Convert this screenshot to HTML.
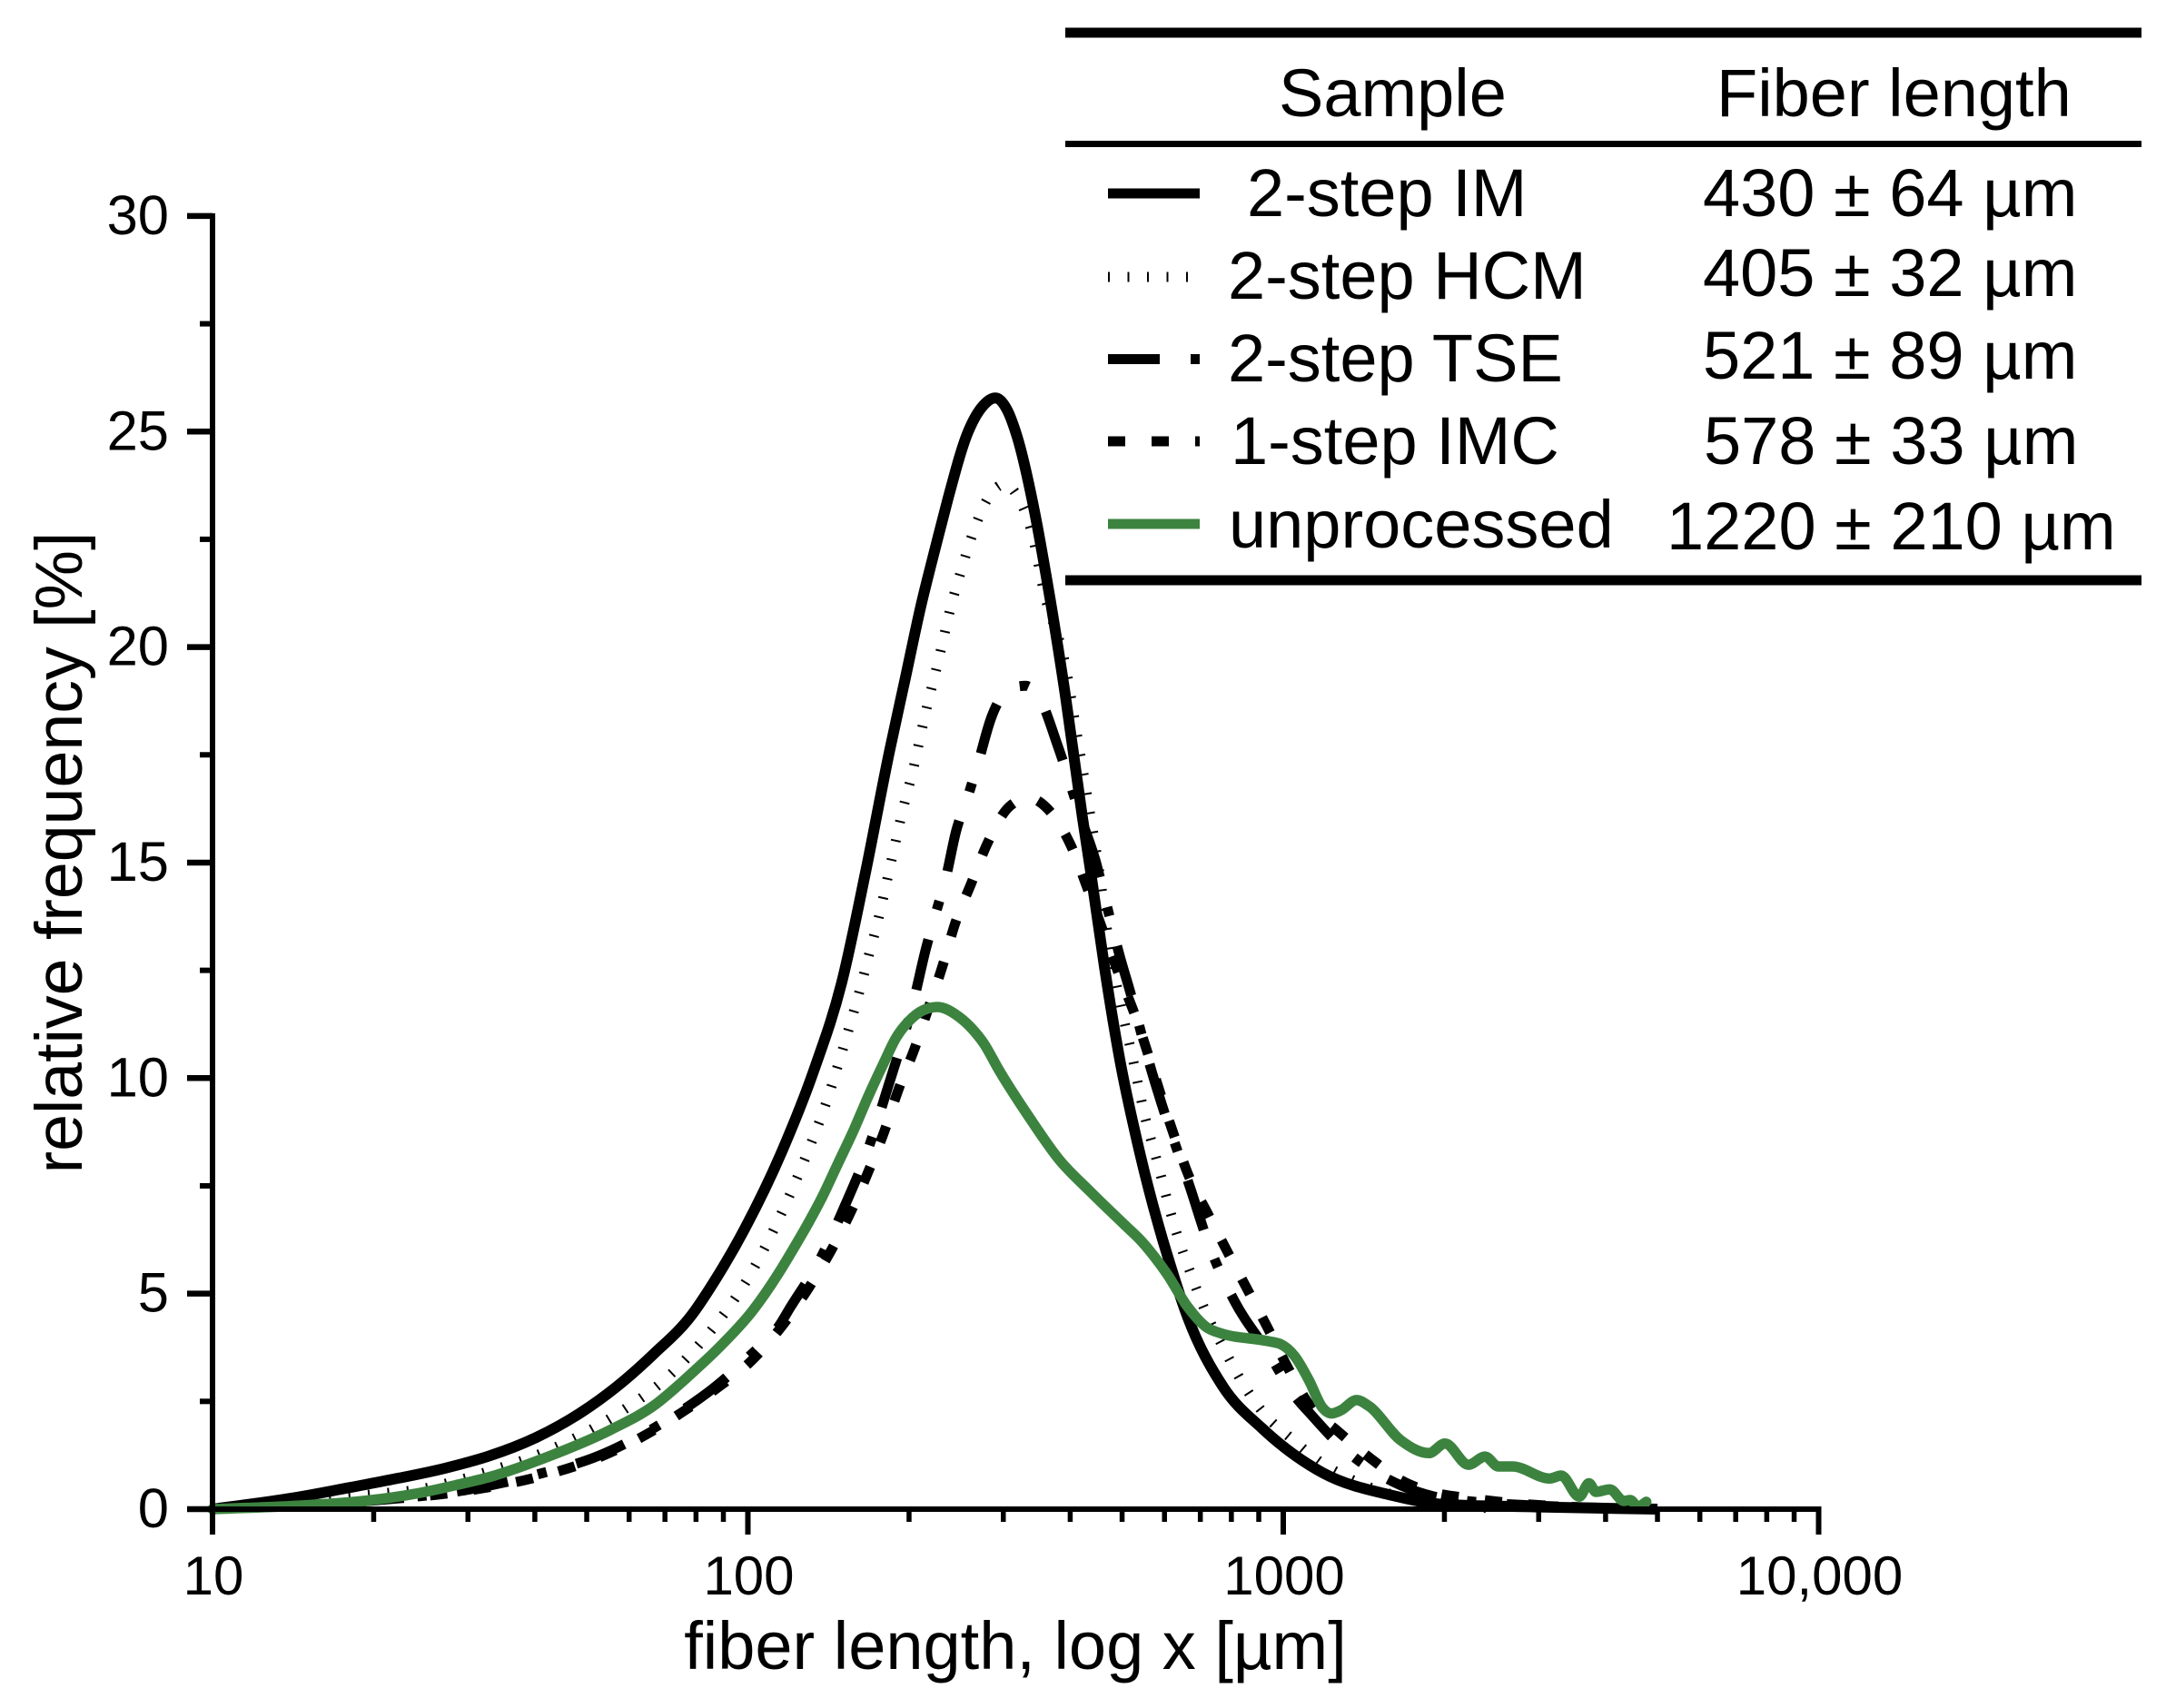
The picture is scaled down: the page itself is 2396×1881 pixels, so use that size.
<!DOCTYPE html>
<html>
<head>
<meta charset="utf-8">
<title>Fiber length distribution</title>
<style>
html,body{margin:0;padding:0;background:#fff;}
svg{display:block;}
text{font-family:"Liberation Sans",Arial,sans-serif;fill:#000;}
</style>
</head>
<body>
<svg id="chart" xmlns="http://www.w3.org/2000/svg" width="2396" height="1881" viewBox="0 0 2396 1881">
<rect x="0" y="0" width="2396" height="1881" fill="#fff"/>
<g id="series-layer"></g>
<g id="axis-layer"></g>
<text x="1118" y="1838" font-size="74" text-anchor="middle">fiber length, log x [µm]</text>
<text x="0" y="0" font-size="73.5" text-anchor="middle" transform="translate(90,939) rotate(-90)">relative frequency [%]</text>
<g>
<rect x="1173" y="30.5" width="1185" height="11" fill="#000"/>
<rect x="1173" y="155" width="1185" height="7" fill="#000"/>
<rect x="1173" y="633.5" width="1185" height="11" fill="#000"/>
<text x="1408" y="128" font-size="74">Sample</text>
<text x="1890" y="128" font-size="74">Fiber length</text>
<line x1="1220" x2="1321" y1="213" y2="213" stroke="#000" stroke-width="11"/>
<line x1="1220" x2="1321" y1="305" y2="305" stroke="#000" stroke-width="11" stroke-dasharray="2 19.5"/>
<line x1="1220" x2="1321" y1="395.5" y2="395.5" stroke="#000" stroke-width="11" stroke-dasharray="57 34 10 34"/>
<line x1="1220" x2="1321" y1="486" y2="486" stroke="#000" stroke-width="11" stroke-dasharray="19 29"/>
<line x1="1220" x2="1321" y1="577" y2="577" stroke="#3d8340" stroke-width="11"/>
<text x="1373" y="238" font-size="74">2-step IM</text>
<text x="1352" y="329" font-size="74">2-step HCM</text>
<text x="1352" y="420" font-size="74">2-step TSE</text>
<text x="1355" y="511" font-size="74">1-step IMC</text>
<text x="1353" y="603" font-size="74">unprocessed</text>
<text x="1875" y="238" font-size="74">430 ± 64 µm</text>
<text x="1875" y="326" font-size="74">405 ± 32 µm</text>
<text x="1875" y="417" font-size="74">521 ± 89 µm</text>
<text x="1876" y="511" font-size="74">578 ± 33 µm</text>
<text x="1835" y="605" font-size="74">1220 ± 210 µm</text>
</g>
</svg>
<script>
const imLengths = [10,14,18,22.3,27.2,33,40.2,48.9,57,66.7,78.5,87.7,98.6,116.7,133,149.6,166,184,197,210,225,236,258,275,290,305,318,344,367,392,421,436,464,495,530,583,607,663,771,914,1183,1596,2000,3000,5000];
const imValues = [0,.25,.5,.72,.95,1.24,1.66,2.25,2.85,3.6,4.5,5.4,6.5,8.4,10.2,12.2,14.8,17.6,19.3,20.9,22.4,23.4,25,25.6,25.78,25.5,24.9,23.07,21.1,18.86,16.1,14.85,12.54,10.43,8.68,6.64,5.9,4.45,2.85,1.87,.85,.32,.11,.05,0];
const hcmLengths = [10,15,20.6,24.4,28.8,33.7,39.4,45.8,52.7,60.7,69,77.8,86.7,95.5,100,108,116,124,132,140,147,154,161,168,175,185,195,203,214,227,240,251,264,281,302,320,340,357,392,413,430,453,473,495,523,550,586,625,676,719,777,839,920,1035,1183,1334,1700,2500];
const hcmValues = [0,.2,.36,.46,.67,.92,1.2,1.55,1.95,2.43,2.94,3.57,4.25,4.96,5.35,6.11,6.91,7.73,8.57,9.42,10.26,11.1,11.94,12.82,13.66,15,16.26,17.1,18.4,19.7,20.99,21.83,22.69,23.46,23.78,23.46,22.6,21.3,19.56,17.87,16.56,14.8,13.1,11.8,10.47,9.18,7.9,6.6,5.37,4.53,3.69,2.93,2.22,1.64,1.06,.7,.25,0];
const tseLengths = [10,20,30,40.6,52.7,65,75.4,88.5,100.7,115,120,136,152,168,182,205,215,224,234,245,257,269,285,310,330,351,380,420,447,464,495,515,568,590,669,728,809,934,1059,1122,1267,1504,1660,1905,2240,3000,5000];
const tseValues = [0,.2,.45,.81,1.24,1.8,2.29,2.92,3.55,4.3,4.68,5.77,7.06,8.38,9.73,11.9,13,13.8,14.62,15.74,16.5,17.3,18.37,19.05,19.1,18.8,17.67,16,15,14.2,12.83,12.1,10.15,9.48,7.48,6.1,4.85,3.66,2.57,2.22,1.52,.82,.55,.3,.18,.08,0];
const imcLengths = [10,20,30,40.6,52.7,65,75.4,88.5,100.7,115,130,143,156,168,180,191,205,218,231,244,261,280,308,335,362,401,430,458,490,525,624,664,723,789,861,934,1018,1122,1267,1462,1660,1905,2240,2630,3500,5000];
const imcValues = [0,.2,.43,.75,1.2,1.75,2.25,2.85,3.4,4.2,5.14,6,6.92,7.84,8.78,9.73,10.7,11.67,12.6,13.6,14.5,15.44,16.3,16.5,16.26,15.4,14.43,13.5,12.5,11.56,8.7,7.77,6.85,5.94,5.05,4.22,3.3,2.4,1.8,1.16,.67,.39,.25,.15,.05,0];
const rawLengths = [10,14.4,19.5,24,29,33,43,55.6,66.7,78.5,90,102,113.8,121.6,129.7,138,147.6,158,168,179.5,189,199.5,213,226,248,262,276,294,335,382,435,501,543,607,664,719,764,934,988,1050,1117,1183,1230,1280,1371,1442,1660,1871,2005,2218,2382,2523,2679,3147,3304,3573,3724,3837,4074,4325,4446,4600,4764];
const rawValues = [0,.08,.2,.36,.58,.75,1.25,1.85,2.4,3.15,3.85,4.6,5.45,6.04,6.64,7.27,8.04,8.82,9.59,10.36,10.93,11.31,11.58,11.65,11.42,11.15,10.8,10.2,9.1,8.1,7.38,6.64,6.22,5.45,4.68,4.22,4.08,3.9,3.83,3.55,2.99,2.36,2.22,2.29,2.53,2.4,1.59,1.3,1.52,1.03,1.22,.99,.99,.71,.78,.29,.6,.4,.46,.19,.21,.06,.17];
const xMajorTicks = [10,100,1000,10000];
const xTickLabels = ["10","100","1000","10,000"];
const xMinorTicks = [20,30,40,50,60,70,80,90,200,300,400,500,600,700,800,900,2000,3000,4000,5000,6000,7000,8000,9000];
const yMajorTicks = [0,5,10,15,20,25,30];
const yMinorTicks = [2.5,7.5,12.5,17.5,22.5,27.5];

const NS = "http://www.w3.org/2000/svg";
function sx(v){ return 234 + (Math.log10(v) - 1) * 589.5; }
function sy(v){ return 1662 - v * 47.47; }

function make(tag, attrs, parent){
  const el = document.createElementNS(NS, tag);
  for (const k in attrs) el.setAttribute(k, attrs[k]);
  parent.appendChild(el);
  return el;
}

function slope3(x0,y0,x1,y1,x2,y2){
  const h0 = x1-x0, h1 = x2-x1, s0 = (y1-y0)/h0, s1 = (y2-y1)/h1;
  const p = (s0*h1 + s1*h0)/(h0+h1);
  return (Math.sign(s0)+Math.sign(s1)) * Math.min(Math.abs(s0), Math.abs(s1), 0.5*Math.abs(p)) || 0;
}
function curvePath(lengths, values){
  const X = lengths.map(sx), Y = values.map(sy), n = X.length, m = [];
  for (let i=0;i<n;i++){
    if (i===0) m.push((Y[1]-Y[0])/(X[1]-X[0]));
    else if (i===n-1) m.push((Y[n-1]-Y[n-2])/(X[n-1]-X[n-2]));
    else m.push(slope3(X[i-1],Y[i-1],X[i],Y[i],X[i+1],Y[i+1]));
  }
  let d = "M" + X[0].toFixed(1) + " " + Y[0].toFixed(1);
  for (let i=0;i<n-1;i++){
    const h = (X[i+1]-X[i])/3;
    d += "C" + (X[i]+h).toFixed(1) + " " + (Y[i]+m[i]*h).toFixed(1) + " " +
         (X[i+1]-h).toFixed(1) + " " + (Y[i+1]-m[i+1]*h).toFixed(1) + " " +
         X[i+1].toFixed(1) + " " + Y[i+1].toFixed(1);
  }
  return d;
}

const seriesLayer = document.getElementById("series-layer");
const axisLayer = document.getElementById("axis-layer");

const hcmLine = make("path", {d:curvePath(hcmLengths,hcmValues), fill:"none", stroke:"#000", "stroke-width":11, "stroke-dasharray":"2 19.5"}, seriesLayer);


const tseLine = make("path", {d:curvePath(tseLengths,tseValues), fill:"none", stroke:"#000", "stroke-width":11, "stroke-dasharray":"57 34 10 34"}, seriesLayer);


const imcLine = make("path", {d:curvePath(imcLengths,imcValues), fill:"none", stroke:"#000", "stroke-width":11, "stroke-dasharray":"19 29"}, seriesLayer);


const imLine = make("path", {d:curvePath(imLengths,imValues), fill:"none", stroke:"#000", "stroke-width":12, "stroke-linejoin":"round"}, seriesLayer);


const rawLine = make("path", {d:curvePath(rawLengths,rawValues), fill:"none", stroke:"#3d8340", "stroke-width":11.5, "stroke-linejoin":"round", "stroke-linecap":"round"}, seriesLayer);



const yAxisLine = make("line", {x1:sx(10), x2:sx(10), y1:sy(30)-3, y2:sy(0), stroke:"#000", "stroke-width":6}, axisLayer);


const xAxisLine = make("line", {x1:sx(10), x2:sx(10000)+3, y1:sy(0), y2:sy(0), stroke:"#000", "stroke-width":6}, axisLayer);



yMajorTicks.forEach(function(v){
  const t = make("line", {x1:sx(10)-28, x2:sx(10), y1:sy(v), y2:sy(v), stroke:"#000", "stroke-width":6.5}, axisLayer);
  
  
  const l = make("text", {x:186, y:sy(v)+20, "font-size":61.5, "text-anchor":"end"}, axisLayer);
  l.textContent = String(v);
  
  
});
yMinorTicks.forEach(function(v){
  const t = make("line", {x1:sx(10)-14, x2:sx(10), y1:sy(v), y2:sy(v), stroke:"#000", "stroke-width":6}, axisLayer);
  
  
});
xMajorTicks.forEach(function(v,i){
  const t = make("line", {x1:sx(v), x2:sx(v), y1:sy(0), y2:sy(0)+28, stroke:"#000", "stroke-width":6}, axisLayer);
  
  
  const l = make("text", {x:sx(v)+1, y:1756, "font-size":60, "text-anchor":"middle"}, axisLayer);
  l.textContent = xTickLabels[i];
  
  
});
xMinorTicks.forEach(function(v){
  const t = make("line", {x1:sx(v), x2:sx(v), y1:sy(0), y2:sy(0)+14, stroke:"#000", "stroke-width":5.5}, axisLayer);
  
  
});
</script>
</body>
</html>
